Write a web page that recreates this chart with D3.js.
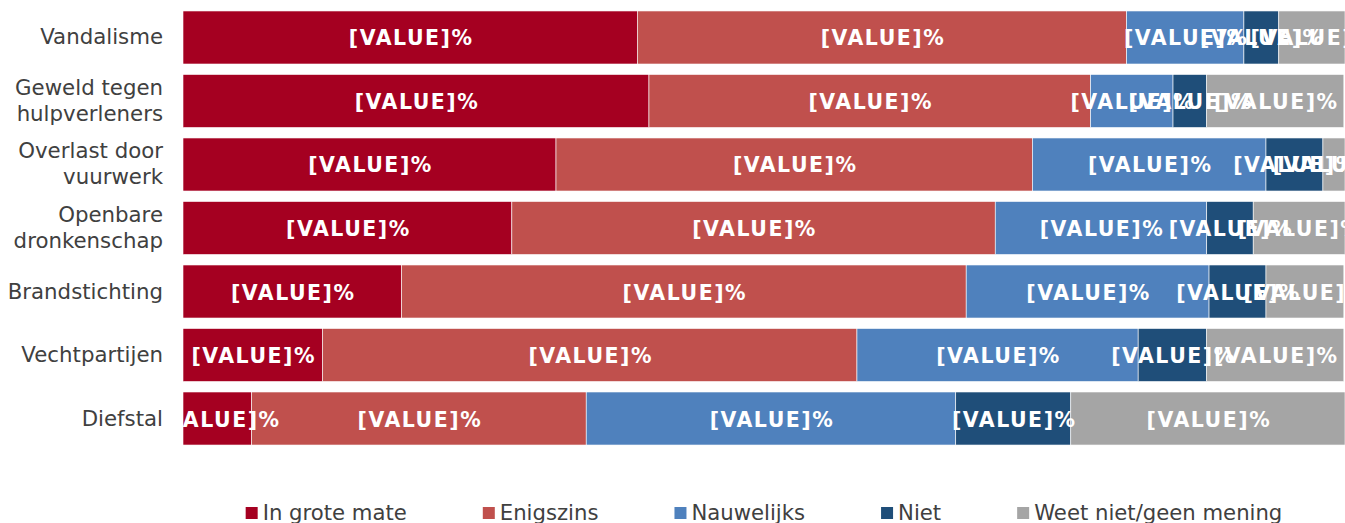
<!DOCTYPE html>
<html>
<head>
<meta charset="utf-8">
<script src="https://cdn.jsdelivr.net/npm/d3@7"></script>
<style>
  html, body { margin: 0; padding: 0; background: #fff; }
  svg { display: block; }
</style>
</head>
<body>
<div id="chart"></div>
<script>
// categories (top to bottom)
const categories = [
    ["Vandalisme"],
    ["Geweld tegen", "hulpverleners"],
    ["Overlast door", "vuurwerk"],
    ["Openbare", "dronkenschap"],
    ["Brandstichting"],
    ["Vechtpartijen"],
    ["Diefstal"]
];

// series names + colours
const seriesNames = ["In grote mate", "Enigszins", "Nauwelijks", "Niet", "Weet niet/geen mening"];
const seriesColors = ["#A50021", "#C0504D", "#4F81BD", "#1F4E79", "#A5A5A5"];

// percentages per series, in category order
const inGroteMate = [39.1, 40.1, 32.1, 28.3, 18.8, 12.0, 5.9];
const enigszins   = [42.1, 38.0, 41.0, 41.6, 48.6, 46.0, 28.8];
const nauwelijks  = [10.1, 7.1, 20.1, 18.2, 20.9, 24.2, 31.8];
const niet        = [3.0, 2.9, 4.9, 4.0, 4.9, 5.9, 9.9];
const weetNiet    = [5.7, 11.8, 1.9, 7.9, 6.7, 11.8, 23.6];

const seriesValues = [inGroteMate, enigszins, nauwelijks, niet, weetNiet];

// build a table for d3.stack
const table = categories.map((c, i) => {
    let row = {key: c.join(" ")};
    seriesNames.forEach((s, j) => row[s] = seriesValues[j][i]);
    return row;
});

const width = 1345, height = 523;
const margin = {left: 183, right: 0};

const svg = d3.select("#chart").append("svg")
    .attr("width", width)
    .attr("height", height);

const x = d3.scaleLinear()
    .domain([0, 100])
    .range([margin.left, width - margin.right]);

const y = d3.scaleBand()
    .domain(table.map(d => d.key))
    .range([0.5, 455.5])
    .padding(0.165);

const stacked = d3.stack().keys(seriesNames)(table);

// clip labels to plot area
svg.append("clipPath").attr("id", "plotClip")
    .append("rect")
    .attr("x", x(0)).attr("y", 0)
    .attr("width", x(100) - x(0)).attr("height", 460);

// bars
const layers = svg.append("g").selectAll("g")
    .data(stacked)
    .join("g")
    .attr("fill", (d, i) => seriesColors[i]);

layers.selectAll("rect")
    .data(d => d)
    .join("rect")
    .attr("x", d => x(d[0]))
    .attr("y", d => y(d.data.key))
    .attr("width", d => x(d[1]) - x(d[0]))
    .attr("height", y.bandwidth())
    .attr("stroke", "#fff")
    .attr("stroke-width", 0.6);

// value labels
const labelG = svg.append("g").attr("clip-path", "url(#plotClip)");
stacked.forEach(layer => {
    labelG.append("g").selectAll("text")
        .data(layer)
        .join("text")
        .attr("x", d => (x(d[0]) + x(d[1])) / 2 + 1)
        .attr("y", d => y(d.data.key) + y.bandwidth() / 2 + 8)
        .attr("text-anchor", "middle")
        .attr("fill", "#fff")
        .style("font-family", "'DejaVu Sans', Verdana, sans-serif")
        .style("font-weight", "bold")
        .style("font-size", "20.5px")
        .style("letter-spacing", "1.5px")
        .text("[VALUE]%");
});

// category labels
const catG = svg.append("g");
categories.forEach((lines, i) => {
    const key = table[i].key;
    const cy = y(key) + y.bandwidth() / 2 + 7;
    const lh = 26;
    const t = catG.append("text")
        .attr("text-anchor", "end")
        .attr("fill", "#404040")
        .style("font-family", "'DejaVu Sans', Verdana, sans-serif")
        .style("font-size", "21.3px");
    lines.forEach((ln, k) => {
        t.append("tspan")
            .attr("x", x(0) - 20)
            .attr("y", cy + (k - (lines.length - 1) / 2) * lh)
            .text(ln);
    });
});

// legend, centred under the plot
const legend = svg.append("g");
const items = legend.selectAll("g")
    .data(seriesNames)
    .join("g");

items.append("rect")
    .attr("width", 12).attr("height", 12)
    .attr("y", 507)
    .attr("fill", (d, i) => seriesColors[i]);

items.append("text")
    .attr("x", 17)
    .attr("y", 520)
    .attr("fill", "#404040")
    .style("font-family", "'DejaVu Sans', Verdana, sans-serif")
    .style("font-size", "21.2px")
    .text(d => d);

let offset = 0;
const offsets = [];
items.each(function() {
    const w = 17 + d3.select(this).select("text").node().getComputedTextLength();
    offsets.push(offset);
    offset += w + 76;
});
const total = offset - 76;
const startX = (x(0) + x(100)) / 2 - total / 2;
items.attr("transform", (d, i) => `translate(${startX + offsets[i]},0)`);
</script>
</body>
</html>
